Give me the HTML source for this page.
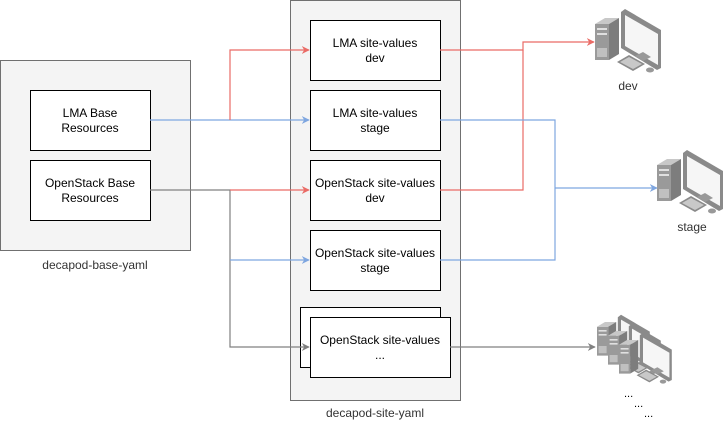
<!DOCTYPE html>
<html><head><meta charset="utf-8"><style>
body{margin:0;background:#fff;}
svg{display:block;font-family:"Liberation Sans",Arial,sans-serif;}
</style></head><body>
<svg width="725" height="422" viewBox="0 0 725 422" xmlns="http://www.w3.org/2000/svg">
<defs>
<marker id="ar" viewBox="0 0 10 10" refX="9" refY="5" markerWidth="8" markerHeight="8" markerUnits="userSpaceOnUse" orient="auto"><path d="M0,0 L10,5 L0,10 L3,5 z" fill="#ea6b66"/></marker>
<marker id="ab" viewBox="0 0 10 10" refX="9" refY="5" markerWidth="8" markerHeight="8" markerUnits="userSpaceOnUse" orient="auto"><path d="M0,0 L10,5 L0,10 L3,5 z" fill="#7ea6e0"/></marker>
<marker id="ag" viewBox="0 0 10 10" refX="9" refY="5" markerWidth="8" markerHeight="8" markerUnits="userSpaceOnUse" orient="auto"><path d="M0,0 L10,5 L0,10 L3,5 z" fill="#808080"/></marker>
<g id="pc">
<polygon points="0,16 14,16 14,52 0,52" fill="#9a9a9a"/>
<polygon points="0,16 10,10 24,10 14,16" fill="#c8c8c8"/>
<polygon points="14,16 24,10 24,46 14,52" fill="#7d7d7d"/>
<rect x="2" y="20" width="10" height="2" fill="#e0e0e0"/><rect x="2" y="25" width="10" height="2" fill="#e0e0e0"/>
<rect x="2" y="40" width="10" height="9" fill="#c0c0c0"/>
<polygon points="26,4 30,1 66,22 66,60 62,62 26,40" fill="#8a8a8a"/>
<polygon points="30,7 63,26 63,57 30,38" fill="#f6f6f6"/>
<polygon points="40,48 48,44 56,49 48,53" fill="#999"/>
<polygon points="22,54 34,47 50,56 38,63" fill="#8a8a8a"/>
<polygon points="25,54 34,49 47,56 38,61" fill="#c8c8c8"/>
<ellipse cx="55" cy="62" rx="4" ry="2.5" fill="#999"/>
</g>
</defs>
<rect x="0.5" y="60.5" width="190" height="190" fill="#f4f4f4" stroke="#707070"/>
<rect x="290.5" y="0.5" width="170" height="400" fill="#f4f4f4" stroke="#707070"/>
<g fill="#fff" stroke="#000" stroke-width="1">
<rect x="30.5" y="90.5" width="120" height="60"/>
<rect x="30.5" y="160.5" width="120" height="60"/>
<rect x="310.5" y="20.5" width="130" height="60"/>
<rect x="310.5" y="90.5" width="130" height="60"/>
<rect x="310.5" y="160.5" width="130" height="60"/>
<rect x="310.5" y="230.5" width="130" height="60"/>
<rect x="300.5" y="307.5" width="140" height="60"/>
<rect x="310.5" y="317.5" width="140" height="60"/>
</g>
<g font-size="12" fill="#000" text-anchor="middle">
<text x="90" y="117">LMA Base</text><text x="90" y="132">Resources</text>
<text x="90" y="187">OpenStack Base</text><text x="90" y="202">Resources</text>
<text x="375" y="47">LMA site-values</text><text x="375" y="62">dev</text>
<text x="375" y="117">LMA site-values</text><text x="375" y="132">stage</text>
<text x="375" y="187">OpenStack site-values</text><text x="375" y="202">dev</text>
<text x="375" y="257">OpenStack site-values</text><text x="375" y="272">stage</text>
<text x="380" y="344">OpenStack site-values</text><text x="380" y="359">...</text>
</g>
<g font-size="12" fill="#333" text-anchor="middle">
<text x="95" y="269">decapod-base-yaml</text>
<text x="375" y="417">decapod-site-yaml</text>
<text x="628" y="90">dev</text>
<text x="692" y="231">stage</text>
</g>
<g fill="none" stroke-width="1.2">
<path d="M150,120 H309" stroke="#7ea6e0" marker-end="url(#ab)"/>
<path d="M230,120 V50 H309" stroke="#ea6b66" marker-end="url(#ar)"/>
<path d="M150,190 H230 V347 H309" stroke="#808080" marker-end="url(#ag)"/>
<path d="M230,190 H309" stroke="#ea6b66" marker-end="url(#ar)"/>
<path d="M230,260 H309" stroke="#7ea6e0" marker-end="url(#ab)"/>
<path d="M440,50 H523 V42 H594" stroke="#ea6b66" marker-end="url(#ar)"/>
<path d="M440,190 H523 V50" stroke="#ea6b66"/>
<path d="M440,120 H555 V260 H440" stroke="#7ea6e0"/>
<path d="M555,188 H657" stroke="#7ea6e0" marker-end="url(#ab)"/>
<path d="M450,347 H595" stroke="#808080" marker-end="url(#ag)"/>
</g>
<use href="#pc" x="595" y="8"/>
<use href="#pc" x="657" y="149"/>
<g transform="translate(597,314) scale(0.8)"><use href="#pc" x="0" y="0"/></g>
<g transform="translate(608,323) scale(0.8)"><use href="#pc" x="0" y="0"/></g>
<g transform="translate(619,332) scale(0.8)"><use href="#pc" x="0" y="0"/></g>
<g font-size="11" fill="#000">
<text x="624" y="397">...</text><text x="634" y="407">...</text><text x="644" y="417">...</text>
</g>
</svg>
</body></html>
